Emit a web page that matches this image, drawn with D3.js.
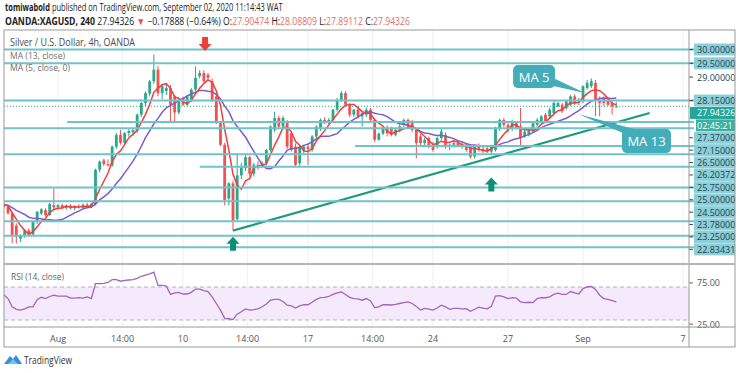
<!DOCTYPE html>
<html><head><meta charset="utf-8">
<script src="https://cdn.jsdelivr.net/npm/d3@7"></script>
<style>body{margin:0;background:#fff}svg{display:block;font-family:"Open Sans",sans-serif}</style>
</head><body><svg id="c" width="740" height="373"></svg>
<script>
// ---------- DATA ----------
const candles = [
[24.40,24.45,24.25,24.30],[24.30,24.34,24.02,24.06],[24.06,24.10,22.98,23.27],[23.62,23.70,22.97,23.21],
[23.15,23.30,23.03,23.27],[23.25,23.50,23.18,23.45],[23.45,23.52,23.25,23.30],[23.30,23.80,23.25,23.76],
[23.76,24.15,23.68,24.12],[24.06,24.25,24.00,24.21],[24.18,24.25,23.95,24.00],[24.00,24.45,23.98,24.40],
[24.36,24.97,24.22,24.28],[24.28,24.40,24.20,24.36],[24.36,24.42,24.22,24.26],[24.26,24.38,24.20,24.34],
[24.34,24.40,24.22,24.25],[24.25,24.36,24.18,24.32],[24.32,24.40,24.24,24.28],[24.28,24.42,24.22,24.38],
[24.38,24.44,24.26,24.30],[24.30,24.45,24.25,24.40],[24.40,25.68,24.35,25.64],[25.64,25.98,25.55,25.94],
[25.98,26.05,25.78,25.85],[25.85,26.02,25.76,25.80],[25.80,26.52,25.75,26.48],[26.48,26.98,26.40,26.90],
[26.90,27.09,26.55,26.62],[26.62,27.02,26.55,26.97],[26.97,27.15,26.85,27.05],[27.00,27.12,26.88,27.08],
[27.05,27.68,26.98,27.64],[27.64,28.10,27.55,28.06],[28.06,28.48,27.95,28.42],[28.40,28.90,28.30,28.85],
[28.85,29.82,28.75,29.27],[29.27,29.40,28.30,28.42],[28.42,28.75,28.20,28.67],[28.50,28.72,28.35,28.60],
[28.60,28.72,27.40,28.00],[28.30,28.35,27.39,27.72],[27.72,28.25,27.65,28.18],[28.24,28.30,27.95,28.00],
[28.00,28.35,27.95,28.30],[28.18,28.60,28.10,28.55],[28.55,29.39,28.50,28.97],[29.03,29.25,28.95,29.15],
[29.15,29.25,28.80,28.85],[29.09,29.15,28.90,28.97],[28.85,28.95,28.10,28.18],[28.30,28.40,27.30,27.33],
[27.33,27.40,26.50,26.55],[26.55,26.62,24.36,24.55],[24.60,25.20,24.35,25.15],[25.15,25.25,23.44,23.81],
[23.85,26.24,23.80,25.44],[25.44,25.90,25.30,25.73],[25.70,26.20,25.60,26.10],[26.10,26.15,25.40,25.50],
[25.50,25.90,25.40,25.82],[25.82,25.95,25.65,25.72],[25.76,25.95,25.70,25.88],[25.88,26.40,25.80,26.36],
[26.36,27.25,26.30,27.21],[27.09,27.75,27.00,27.52],[27.52,27.60,27.15,27.21],[27.21,27.60,27.10,27.52],
[27.39,27.45,26.40,26.48],[26.97,27.05,26.30,26.36],[26.48,26.60,25.75,25.82],[25.88,26.52,25.76,26.48],
[26.36,26.55,26.20,26.48],[26.48,26.60,25.82,26.40],[26.36,26.90,26.30,26.85],[26.85,27.25,26.78,27.21],
[27.15,27.50,27.05,27.45],[27.45,27.55,27.30,27.39],[27.39,27.52,27.30,27.45],[27.45,27.85,27.40,27.82],
[27.82,28.25,27.75,28.18],[28.18,28.50,28.10,28.42],[28.42,28.48,27.95,28.00],[28.00,28.05,27.55,27.64],
[27.64,27.85,27.55,27.82],[27.82,27.88,27.50,27.58],[27.58,27.75,27.21,27.70],[27.64,27.90,27.55,27.82],
[27.82,27.88,27.40,27.45],[27.45,27.50,26.65,26.73],[26.73,27.00,26.70,26.95],[26.95,27.20,26.90,27.15],
[27.15,27.25,26.85,26.97],[27.15,27.20,26.85,26.91],[26.91,27.15,26.85,27.09],[27.09,27.30,27.00,27.21],
[27.27,27.50,27.20,27.45],[27.45,27.50,27.15,27.21],[27.39,27.45,27.00,27.09],[27.09,27.15,26.06,26.61],
[26.85,26.95,26.55,26.61],[26.61,26.80,26.50,26.73],[26.79,26.85,26.42,26.48],[26.48,26.65,26.30,26.36],
[26.48,26.85,26.40,26.79],[26.79,27.15,26.70,27.03],[26.91,27.00,26.40,26.48],[26.48,26.60,26.35,26.55],
[26.55,26.70,26.45,26.61],[26.61,26.70,26.45,26.52],[26.52,26.62,26.40,26.55],[26.55,26.62,26.30,26.36],
[26.48,26.55,26.05,26.12],[26.12,26.55,26.05,26.48],[26.48,26.60,26.30,26.40],[26.40,26.50,26.25,26.33],
[26.42,26.50,26.25,26.30],[26.30,26.55,26.18,26.48],[26.36,27.20,26.30,27.15],[27.15,27.50,27.05,27.45],
[27.45,27.52,27.20,27.27],[27.27,27.35,27.00,27.09],[27.15,27.45,27.05,27.39],[27.33,27.40,27.10,27.15],
[27.21,27.88,26.48,26.79],[26.85,27.10,26.80,27.03],[26.91,27.15,26.85,27.09],[27.03,27.38,26.98,27.33],
[27.27,27.52,27.20,27.45],[27.39,27.62,27.35,27.58],[27.64,27.70,27.35,27.39],[27.58,27.90,27.50,27.82],
[27.70,28.15,27.65,28.06],[27.94,28.12,27.90,28.06],[28.00,28.06,27.70,27.76],[27.88,28.18,27.82,28.12],
[28.00,28.35,27.95,28.30],[28.30,28.38,28.00,28.06],[28.06,28.25,27.98,28.18],[28.12,28.70,28.05,28.67],
[28.61,28.90,28.55,28.79],[28.67,28.95,28.60,28.85],[28.79,28.90,27.58,28.18],[28.18,28.30,27.58,28.06],
[28.24,28.30,27.95,28.06],[28.18,28.25,27.95,28.00],[28.06,28.12,27.64,27.94],[27.90474,28.08809,27.89112,27.94326]
];
// closes before the first visible bar (MA warm-up)
const prevCloses = [24.10,24.35,24.55,24.20,24.45,24.60,24.30,24.15,24.40,24.50,24.35,24.45];
const rsi = [60.5,56,46,43,42,43.5,46,46,54.5,57.5,56,58.5,60,59,59,59,56.5,56.5,57,56.5,58,56,74,74,74.5,75.5,79,79,77,78,
78.5,79,80.5,83,84.5,86,88,72,72,71,61,63,63.5,61.5,61.5,63.5,67.5,67.5,65.5,64.5,58,50,42,32,31.5,30.5,37,40,43.5,42,
42.5,43.5,46,49.5,54,55,55,52.5,48,47,44.5,47,48.5,48.5,51.5,55,57,57.5,58.5,61,63,64,61,57.5,56,55.5,54,56,53,45,
46,48.5,48.5,48.2,49,50,51,52,50,46.5,42,44,43.2,42,44.5,48,46,43,44,44,43.6,43.8,40.5,43,45.5,44.5,43.5,46.5,59,59.5,
58,56,57,56.5,52,51,51.5,51,56,57,57,58,61,62.5,61,61,64.5,63,61.5,68,70,70.6,67,60,56,55,53.5,52];
const levels = [30, 29.5, 28.15, 27.37, 27.15, 26.5, 26.20372, 25.75, 25, 24.5, 23.78, 23.25, 22.83431];
const levelStart = [0, 0, 0, 15.2, 0, 84.3, 0, 47, 0, 0, 0, 0, 0]; // bar index where each level begins
const plainPriceTicks = [29];
const lastPrice = 27.94326;
const countdown = "02:45:21";
const timeTicks = [13, 28.5, 43, 58.5, 73, 88.5, 103, 121, 139, 163];
const timeLabels = ["Aug", "14:00", "10", "14:00", "17", "14:00", "24", "27", "Sep", "7"];
const rsiTicks = [75, 25];
const trend = [[55, 23.44], [155, 27.70]];
const upArrows = [[55, 23.22], [117, 25.36]];
const downArrows = [[48.3, 29.95]];
const ma5Tip = [139.5, 28.42], ma13Tip = [137.8, 27.66];

// ---------- LAYOUT ----------
const L = 4, R = 735, PX = 689, TOP = 30, MB = 264, RT = 265, RB = 327, BOT = 347;
const svg = d3.select("#c");
const x = d3.scaleLinear().domain([0, 163]).range([3.83, 683]);
const y = d3.scaleLinear().domain([22.83431, 30]).range([247.3, 49.5]);
const yr = d3.scaleLinear().domain([30, 70]).range([320, 287]);

svg.append("rect").attr("width", 740).attr("height", 373).attr("fill", "#fff");
const defs = svg.append("defs");
defs.append("clipPath").attr("id", "cm").append("rect").attr("x", L).attr("y", TOP).attr("width", PX - L).attr("height", MB - TOP);
defs.append("clipPath").attr("id", "cr").append("rect").attr("x", L).attr("y", RT).attr("width", PX - L).attr("height", RB - RT);

// rich text laid out piece by piece, then squeezed horizontally to the target width
function richText(px, py, parts, width, size) {
  const g = svg.append("g");
  let cx = 0;
  parts.forEach(p => {
    const t = g.append("text").attr("x", cx).attr("y", 0).attr("font-size", size)
      .attr("fill", p.c || "#222").attr("font-weight", p.b ? "bold" : "normal")
      .style("white-space", "pre").text(p.t);
    cx += t.node().getComputedTextLength();
  });
  g.attr("transform", `translate(${px},${py}) scale(${width / cx},1)`);
}
const red = "#e0706a";
richText(5, 11, [{ t: "tomiwabold", b: 1 }, { t: " published on TradingView.com, September 02, 2020 11:14:43 WAT" }], 278, 10);
richText(5, 24.5, [
  { t: "OANDA:XAGUSD, 240", b: 1 }, { t: " 27.94326 " }, { t: "▼", c: "#e5534b" }, { t: " −0.17888 (−0.64%) O:" },
  { t: "27.90474", c: red }, { t: " H:" }, { t: "28.08809", c: red }, { t: " L:" }, { t: "27.89112", c: red },
  { t: " C:" }, { t: "27.94326", c: red }], 405, 10);

// grid
svg.append("g").selectAll("line").data(timeTicks).join("line")
  .attr("x1", d => x(d)).attr("x2", d => x(d)).attr("y1", TOP).attr("y2", RB)
  .attr("stroke", "#edf0f6").attr("stroke-width", 1);

// RSI band
svg.append("rect").attr("x", L).attr("y", yr(70)).attr("width", PX - L).attr("height", yr(30) - yr(70)).attr("fill", "#f5e9fc");
[70, 30].forEach(v => svg.append("line").attr("x1", L).attr("x2", PX).attr("y1", yr(v)).attr("y2", yr(v))
  .attr("stroke", "#b9b3bd").attr("stroke-dasharray", "4,3").attr("stroke-width", 1));

// main pane
const main = svg.append("g").attr("clip-path", "url(#cm)");
const lvlColor = "#70c2cb";
levels.forEach((v, k) => {
  svg.append("line").attr("x1", Math.max(L, x(levelStart[k]))).attr("x2", 694)
    .attr("y1", y(v)).attr("y2", y(v)).attr("stroke", lvlColor).attr("stroke-width", 2);
});
main.append("line").attr("x1", L).attr("x2", PX).attr("y1", y(lastPrice)).attr("y2", y(lastPrice))
  .attr("stroke", "#26a69a").attr("stroke-dasharray", "1,2").attr("stroke-width", 1);

main.append("line").attr("x1", x(trend[0][0])).attr("y1", y(trend[0][1])).attr("x2", x(trend[1][0])).attr("y2", y(trend[1][1]))
  .attr("stroke", "#1f9b7a").attr("stroke-width", 2.2);

// candles
const up = "#2aa88a", dn = "#ef5350";
const cg = main.append("g");
candles.forEach((c, i) => {
  const [o, h, l, cl] = c, col = cl >= o ? up : dn, cx = x(i);
  cg.append("line").attr("x1", cx).attr("x2", cx).attr("y1", y(h)).attr("y2", y(l)).attr("stroke", col).attr("stroke-width", 1);
  const t = y(Math.max(o, cl)), b = y(Math.min(o, cl));
  cg.append("rect").attr("x", cx - 1.4).attr("width", 2.8).attr("y", t).attr("height", Math.max(1, b - t)).attr("fill", col);
});

// moving averages
const allC = prevCloses.concat(candles.map(d => d[3]));
const P = prevCloses.length;
function ma(n) { return candles.map((d, i) => d3.mean(allC.slice(i + P - n + 1, i + P + 1))); }
const line = d3.line().x((d, i) => x(i)).y(d => y(d));
main.append("path").attr("d", line(ma(13))).attr("fill", "none").attr("stroke", "#7e5bc8").attr("stroke-width", 1.5);
main.append("path").attr("d", line(ma(5))).attr("fill", "none").attr("stroke", "#ee3f3f").attr("stroke-width", 1.5);

// arrows
function upArrow(px, py) {
  return `M${px},${py} L${px + 6.5},${py + 7} L${px + 3},${py + 7} L${px + 3},${py + 14} L${px - 3},${py + 14} L${px - 3},${py + 7} L${px - 6.5},${py + 7} Z`;
}
upArrows.forEach(a => svg.append("path").attr("d", upArrow(x(a[0]), y(a[1]))).attr("fill", "#0e8f76"));
downArrows.forEach(a => {
  const px = x(a[0]), py = y(a[1]);
  svg.append("path").attr("d", `M${px},${py} L${px + 6.5},${py - 7} L${px + 3},${py - 7} L${px + 3},${py - 14} L${px - 3},${py - 14} L${px - 3},${py - 7} L${px - 6.5},${py - 7} Z`).attr("fill", "#e8413a");
});

// callouts
const cFill = "#45adb9";
{
  const tx = x(ma5Tip[0]), ty = y(ma5Tip[1]);
  svg.append("path").attr("d", `M${tx - 34},${ty - 16} L${tx - 32},${ty - 7} L${tx},${ty} Z`).attr("fill", cFill);
  svg.append("rect").attr("x", tx - 72).attr("y", ty - 28).attr("width", 42).attr("height", 23).attr("rx", 5).attr("fill", cFill);
  svg.append("text").attr("x", tx - 51).attr("y", ty - 16.5).attr("text-anchor", "middle").attr("dominant-baseline", "central")
    .attr("font-size", 13).attr("fill", "#fff").text("MA 5");
}
{
  const tx = x(ma13Tip[0]), ty = y(ma13Tip[1]);
  svg.append("path").attr("d", `M${tx + 45},${ty + 19} L${tx + 56},${ty + 15} L${tx},${ty} Z`).attr("fill", cFill);
  svg.append("rect").attr("x", tx + 44).attr("y", ty + 15).attr("width", 49).attr("height", 24).attr("rx", 5).attr("fill", cFill);
  svg.append("text").attr("x", tx + 68.5).attr("y", ty + 27).attr("text-anchor", "middle").attr("dominant-baseline", "central")
    .attr("font-size", 13).attr("fill", "#fff").text("MA 13");
}

// legends
svg.append("text").attr("x", 10).attr("y", 45.8).attr("font-size", 10).attr("fill", "#4a4a4a")
  .attr("textLength", 125).attr("lengthAdjust", "spacingAndGlyphs").text("Silver / U.S. Dollar, 4h, OANDA");
svg.append("text").attr("x", 10).attr("y", 59).attr("font-size", 9).attr("fill", "#707070")
  .attr("textLength", 55).attr("lengthAdjust", "spacingAndGlyphs").text("MA (13, close)");
svg.append("text").attr("x", 10).attr("y", 70.5).attr("font-size", 9).attr("fill", "#707070")
  .attr("textLength", 60).attr("lengthAdjust", "spacingAndGlyphs").text("MA (5, close, 0)");
svg.append("text").attr("x", 11).attr("y", 280).attr("font-size", 9.5).attr("fill", "#666")
  .attr("textLength", 53).attr("lengthAdjust", "spacingAndGlyphs").text("RSI (14, close)");

// RSI line
const rl = d3.line().x((d, i) => x(i)).y(d => yr(d));
svg.append("g").attr("clip-path", "url(#cr)").append("path").attr("d", rl(rsi)).attr("fill", "none")
  .attr("stroke", "#a463bd").attr("stroke-width", 1.3);

// price axis labels (stacked downward to avoid overlap)
let labs = levels.map(v => ({ v, y: y(v), kind: "level" }))
  .concat(plainPriceTicks.map(v => ({ v, y: y(v), kind: "plain" })))
  .concat([{ v: lastPrice, y: y(lastPrice), kind: "last" }]);
labs.sort((a, b) => a.y - b.y);
const ordered = [];
labs.forEach(l => { ordered.push(l); if (l.kind === "last") ordered.push({ kind: "cd", y: l.y + 0.01 }); });
const LH = 12.4;
let prev = -1e9;
ordered.forEach(l => { l.py = Math.max(l.y, prev + LH); prev = l.py; });
const ax = svg.append("g");
ordered.forEach(l => {
  if (l.kind === "level") ax.append("rect").attr("x", 694).attr("y", l.py - 6).attr("width", 41).attr("height", 12).attr("fill", "#8ccfd8");
  if (l.kind === "last") ax.append("rect").attr("x", 690).attr("y", l.py - 6).attr("width", 45).attr("height", 12).attr("fill", "#26a69a");
  if (l.kind === "cd") ax.append("rect").attr("x", 696).attr("y", l.py - 6).attr("width", 39).attr("height", 12).attr("fill", "#3bb1a0");
  if (l.kind !== "cd" && l.kind !== "last") ax.append("line").attr("x1", 689).attr("x2", 693).attr("y1", l.py).attr("y2", l.py).attr("stroke", "#444");
  ax.append("text").attr("x", 697).attr("y", l.py).attr("dominant-baseline", "central").attr("font-size", 9)
    .attr("fill", (l.kind === "last" || l.kind === "cd") ? "#fff" : "#1f3f4c")
    .text(l.kind === "cd" ? countdown : l.v.toFixed(5));
});
rsiTicks.forEach(v => {
  ax.append("line").attr("x1", 689).attr("x2", 693).attr("y1", yr(v)).attr("y2", yr(v)).attr("stroke", "#666");
  ax.append("text").attr("x", 697).attr("y", yr(v)).attr("dominant-baseline", "central").attr("font-size", 9).attr("fill", "#555").text(v.toFixed(2));
});

// time axis
svg.selectAll(".tl").data(timeTicks).join("text").attr("class", "tl")
  .attr("x", d => x(d)).attr("y", 342).attr("text-anchor", "middle").attr("font-size", 9).attr("fill", "#555")
  .text((d, i) => timeLabels[i]);

// frame
const fr = svg.append("g").attr("fill", "none");
fr.append("rect").attr("x", L).attr("y", TOP).attr("width", R - L).attr("height", BOT - TOP).attr("stroke", "#9a9a9a").attr("stroke-width", 1);
fr.append("line").attr("x1", PX).attr("x2", PX).attr("y1", TOP).attr("y2", BOT).attr("stroke", "#9a9a9a");
fr.append("line").attr("x1", L).attr("x2", R).attr("y1", MB).attr("y2", MB).attr("stroke", "#b5b5b5").attr("stroke-width", 2);
fr.append("line").attr("x1", L).attr("x2", R).attr("y1", RB).attr("y2", RB).attr("stroke", "#9a9a9a");

// TradingView logo
const lg = svg.append("g");
lg.append("path").attr("d", "M4,364 L10,356 L13,359 L16,355 L22,364 Z").attr("fill", "#2f8fdc");
lg.append("path").attr("d", "M8,364 L13,359 L18,364 Z").attr("fill", "#7cc0f2");
lg.append("text").attr("x", 24).attr("y", 364).attr("font-size", 10).attr("fill", "#333")
  .attr("textLength", 48).attr("lengthAdjust", "spacingAndGlyphs").text("TradingView");
</script></body></html>
